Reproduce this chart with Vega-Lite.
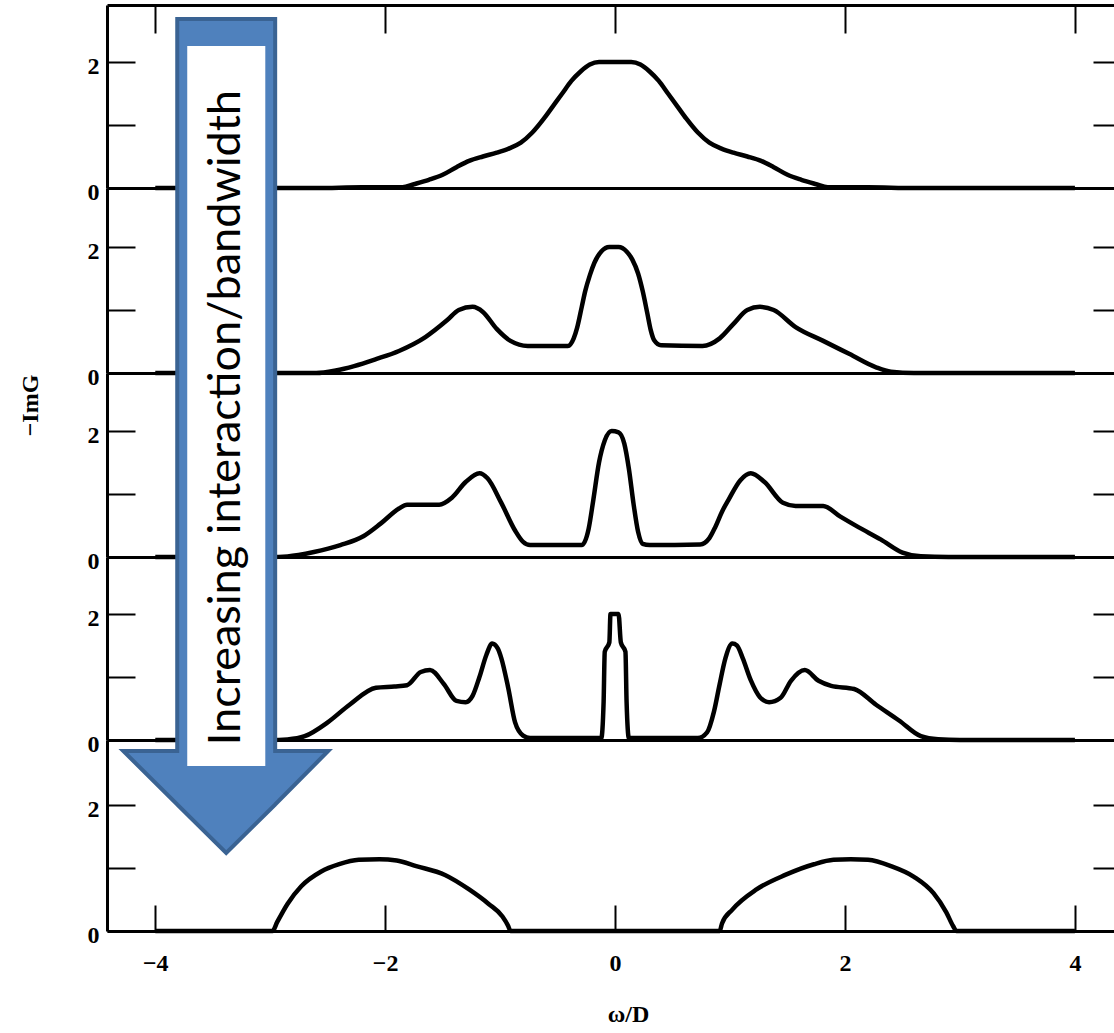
{
  "$schema": "https://vega.github.io/schema/vega-lite/v6.json",
  "background": "white",
  "padding": {"left": 18, "top": 4, "right": 0, "bottom": 0},
  "bounds": "flush",
  "spacing": 0,
  "config": {
    "view": {"stroke": null},
    "axis": {"grid": false, "domainColor": "black", "tickColor": "black", "labelColor": "black", "titleColor": "black"}
  },
  "datasets": {
    "u1": [
      {"w": -4, "g": 0}, {"w": -2.6, "g": 0}, {"w": -2.2, "g": 0.01}, {"w": -1.85, "g": 0.01},
      {"w": -1.75, "g": 0.06}, {"w": -1.62, "g": 0.13}, {"w": -1.5, "g": 0.21}, {"w": -1.38, "g": 0.33},
      {"w": -1.27, "g": 0.43}, {"w": -1.15, "g": 0.5}, {"w": -1.03, "g": 0.56}, {"w": -0.92, "g": 0.63},
      {"w": -0.82, "g": 0.72}, {"w": -0.72, "g": 0.88}, {"w": -0.62, "g": 1.1}, {"w": -0.54, "g": 1.3},
      {"w": -0.46, "g": 1.5}, {"w": -0.38, "g": 1.7}, {"w": -0.3, "g": 1.85}, {"w": -0.22, "g": 1.96},
      {"w": -0.14, "g": 2.0}, {"w": 0, "g": 2.0}, {"w": 0.14, "g": 2.0}, {"w": 0.22, "g": 1.96},
      {"w": 0.3, "g": 1.85}, {"w": 0.38, "g": 1.7}, {"w": 0.46, "g": 1.5}, {"w": 0.54, "g": 1.3},
      {"w": 0.62, "g": 1.1}, {"w": 0.72, "g": 0.88}, {"w": 0.82, "g": 0.72}, {"w": 0.92, "g": 0.63},
      {"w": 1.03, "g": 0.56}, {"w": 1.15, "g": 0.5}, {"w": 1.27, "g": 0.43}, {"w": 1.38, "g": 0.33},
      {"w": 1.5, "g": 0.21}, {"w": 1.62, "g": 0.13}, {"w": 1.75, "g": 0.06}, {"w": 1.85, "g": 0.01},
      {"w": 2.2, "g": 0.01}, {"w": 2.6, "g": 0}, {"w": 4, "g": 0}
    ],
    "u2": [
      {"w": -4, "g": 0}, {"w": -2.6, "g": 0}, {"w": -2.43, "g": 0.04}, {"w": -2.27, "g": 0.11},
      {"w": -2.08, "g": 0.22}, {"w": -1.88, "g": 0.35}, {"w": -1.65, "g": 0.57}, {"w": -1.46, "g": 0.84},
      {"w": -1.36, "g": 1.0}, {"w": -1.24, "g": 1.05}, {"w": -1.15, "g": 0.97}, {"w": -1.03, "g": 0.7},
      {"w": -0.91, "g": 0.51}, {"w": -0.76, "g": 0.43}, {"w": -0.41, "g": 0.43}, {"w": -0.36, "g": 0.55},
      {"w": -0.33, "g": 0.72}, {"w": -0.29, "g": 1.05}, {"w": -0.26, "g": 1.3}, {"w": -0.22, "g": 1.55},
      {"w": -0.18, "g": 1.75}, {"w": -0.12, "g": 1.93}, {"w": -0.05, "g": 2.0}, {"w": 0.03, "g": 2.0},
      {"w": 0.1, "g": 1.93}, {"w": 0.15, "g": 1.8}, {"w": 0.2, "g": 1.58}, {"w": 0.24, "g": 1.3},
      {"w": 0.28, "g": 0.95}, {"w": 0.31, "g": 0.68}, {"w": 0.34, "g": 0.52}, {"w": 0.4, "g": 0.44},
      {"w": 0.76, "g": 0.43}, {"w": 0.91, "g": 0.55}, {"w": 1.03, "g": 0.78}, {"w": 1.15, "g": 1.0},
      {"w": 1.26, "g": 1.05}, {"w": 1.38, "g": 1.0}, {"w": 1.57, "g": 0.73}, {"w": 1.81, "g": 0.51},
      {"w": 2.04, "g": 0.3}, {"w": 2.27, "g": 0.09}, {"w": 2.4, "g": 0.02}, {"w": 2.6, "g": 0},
      {"w": 4, "g": 0}
    ],
    "u25": [
      {"w": -4, "g": 0}, {"w": -3.0, "g": 0}, {"w": -2.85, "g": 0.01}, {"w": -2.62, "g": 0.08},
      {"w": -2.39, "g": 0.19}, {"w": -2.19, "g": 0.33}, {"w": -2.04, "g": 0.53}, {"w": -1.88, "g": 0.77},
      {"w": -1.81, "g": 0.83}, {"w": -1.53, "g": 0.83}, {"w": -1.42, "g": 0.94}, {"w": -1.3, "g": 1.19},
      {"w": -1.18, "g": 1.33}, {"w": -1.11, "g": 1.25}, {"w": -0.99, "g": 0.86}, {"w": -0.87, "g": 0.42},
      {"w": -0.8, "g": 0.24}, {"w": -0.74, "g": 0.19}, {"w": -0.29, "g": 0.19}, {"w": -0.23, "g": 0.45},
      {"w": -0.19, "g": 0.9}, {"w": -0.14, "g": 1.5}, {"w": -0.09, "g": 1.85}, {"w": -0.03, "g": 2.0},
      {"w": 0.03, "g": 1.98}, {"w": 0.08, "g": 1.8}, {"w": 0.12, "g": 1.4}, {"w": 0.16, "g": 0.85},
      {"w": 0.2, "g": 0.4}, {"w": 0.24, "g": 0.21}, {"w": 0.3, "g": 0.19}, {"w": 0.74, "g": 0.2},
      {"w": 0.82, "g": 0.3}, {"w": 0.87, "g": 0.47}, {"w": 0.93, "g": 0.72}, {"w": 0.99, "g": 0.92},
      {"w": 1.09, "g": 1.22}, {"w": 1.18, "g": 1.33}, {"w": 1.3, "g": 1.19}, {"w": 1.46, "g": 0.86},
      {"w": 1.57, "g": 0.81}, {"w": 1.81, "g": 0.81}, {"w": 1.96, "g": 0.64}, {"w": 2.12, "g": 0.47},
      {"w": 2.31, "g": 0.28}, {"w": 2.5, "g": 0.07}, {"w": 2.66, "g": 0.01}, {"w": 2.9, "g": 0},
      {"w": 4, "g": 0}
    ],
    "u3": [
      {"w": -4, "g": 0}, {"w": -3.0, "g": 0}, {"w": -2.85, "g": 0.01}, {"w": -2.7, "g": 0.06},
      {"w": -2.5, "g": 0.28}, {"w": -2.31, "g": 0.56}, {"w": -2.08, "g": 0.83}, {"w": -1.92, "g": 0.85},
      {"w": -1.81, "g": 0.87}, {"w": -1.69, "g": 1.08}, {"w": -1.61, "g": 1.11}, {"w": -1.49, "g": 0.89},
      {"w": -1.38, "g": 0.62}, {"w": -1.3, "g": 0.6}, {"w": -1.24, "g": 0.7}, {"w": -1.18, "g": 1.0},
      {"w": -1.12, "g": 1.35}, {"w": -1.07, "g": 1.53}, {"w": -1.02, "g": 1.45}, {"w": -0.99, "g": 1.3},
      {"w": -0.93, "g": 0.83}, {"w": -0.87, "g": 0.28}, {"w": -0.8, "g": 0.07}, {"w": -0.74, "g": 0.03},
      {"w": -0.12, "g": 0.03}, {"w": -0.1, "g": 0.6}, {"w": -0.09, "g": 1.4}, {"w": -0.05, "g": 1.55},
      {"w": -0.04, "g": 2.0}, {"w": 0.03, "g": 2.0}, {"w": 0.05, "g": 1.55}, {"w": 0.09, "g": 1.4},
      {"w": 0.1, "g": 0.6}, {"w": 0.12, "g": 0.03}, {"w": 0.72, "g": 0.03}, {"w": 0.8, "g": 0.12},
      {"w": 0.86, "g": 0.45}, {"w": 0.91, "g": 0.89}, {"w": 0.96, "g": 1.3}, {"w": 1.02, "g": 1.53},
      {"w": 1.06, "g": 1.5}, {"w": 1.11, "g": 1.3}, {"w": 1.18, "g": 0.95}, {"w": 1.26, "g": 0.68},
      {"w": 1.34, "g": 0.6}, {"w": 1.44, "g": 0.67}, {"w": 1.53, "g": 0.94}, {"w": 1.65, "g": 1.11},
      {"w": 1.77, "g": 0.94}, {"w": 1.88, "g": 0.86}, {"w": 2.08, "g": 0.81}, {"w": 2.27, "g": 0.56},
      {"w": 2.47, "g": 0.31}, {"w": 2.66, "g": 0.06}, {"w": 2.81, "g": 0.01}, {"w": 3.0, "g": 0},
      {"w": 4, "g": 0}
    ],
    "u4": [
      {"w": -4, "g": 0}, {"w": -2.98, "g": 0}, {"w": -2.94, "g": 0.14}, {"w": -2.85, "g": 0.43},
      {"w": -2.73, "g": 0.71}, {"w": -2.56, "g": 0.94}, {"w": -2.4, "g": 1.06}, {"w": -2.23, "g": 1.13},
      {"w": -2.05, "g": 1.14}, {"w": -1.9, "g": 1.12}, {"w": -1.73, "g": 1.03}, {"w": -1.48, "g": 0.89},
      {"w": -1.27, "g": 0.66}, {"w": -1.1, "g": 0.43}, {"w": -0.98, "g": 0.23}, {"w": -0.93, "g": 0.08},
      {"w": -0.91, "g": 0}, {"w": 0.91, "g": 0}, {"w": 0.93, "g": 0.12}, {"w": 1.02, "g": 0.34},
      {"w": 1.23, "g": 0.66}, {"w": 1.48, "g": 0.89}, {"w": 1.73, "g": 1.06}, {"w": 1.9, "g": 1.13},
      {"w": 2.05, "g": 1.14}, {"w": 2.2, "g": 1.13}, {"w": 2.4, "g": 1.03}, {"w": 2.6, "g": 0.86},
      {"w": 2.77, "g": 0.6}, {"w": 2.88, "g": 0.3}, {"w": 2.94, "g": 0.08}, {"w": 2.97, "g": 0},
      {"w": 4, "g": 0}
    ],
    "arrow": [
      {"x": -4.278, "top": 2.857, "bottom": 2.857},
      {"x": -3.809, "top": 2.857, "bottom": 2.008},
      {"x": -3.8089, "top": 14.476, "bottom": 2.008},
      {"x": -3.383, "top": 14.476, "bottom": 1.238},
      {"x": -2.9571, "top": 14.476, "bottom": 2.008},
      {"x": -2.957, "top": 2.857, "bottom": 2.008},
      {"x": -2.496, "top": 2.857, "bottom": 2.857}
    ],
    "arrowLabel": [
      {"text": "Increasing interaction/bandwidth"}
    ]
  },
  "vconcat": [
    {
      "width": 1007,
      "height": 183,
      "layer": [
        {
          "data": {"name": "u1"},
          "mark": {"type": "line", "stroke": "black", "strokeWidth": 4.5, "interpolate": "monotone"},
          "encoding": {
            "x": {"field": "w", "type": "quantitative", "scale": {"domain": [-4.42, 4.34]},
                  "axis": {"orient": "bottom", "domainWidth": 3, "ticks": false, "labels": false, "title": null}},
            "y": {"field": "g", "type": "quantitative", "scale": {"domain": [0, 2.905]},
                  "axis": {"orient": "left", "values": [0, 1, 2], "labelExpr": "datum.value == 1 ? '' : datum.label",
                           "domainWidth": 3, "tickSize": -28, "tickWidth": 2, "labelPadding": 36, "labelOffset": 4,
                           "labelFont": "Liberation Serif", "labelFontWeight": "bold", "labelFontSize": 24, "title": null}}
          }
        },
        {
          "mark": {"type": "text", "text": "U/D=1", "font": "Liberation Serif", "fontWeight": "bold", "fontSize": 26, "align": "center", "baseline": "middle", "color": "black"},
          "encoding": {
            "x": {"datum": 2.23, "scale": {"domain": [-4.42, 4.34]},
                  "axis": {"orient": "top", "values": [-4, -2, 0, 2, 4], "domainWidth": 3, "tickSize": -28, "tickWidth": 2, "labels": false, "title": null}},
            "y": {"datum": 1.49, "scale": {"domain": [0, 2.905]},
                  "axis": {"orient": "right", "values": [0, 1, 2], "domain": false, "labels": false, "tickSize": -21, "tickWidth": 2, "title": null}}
          }
        }
      ],
      "resolve": {"axis": {"x": "independent", "y": "independent"}}
    },
    {
      "width": 1007,
      "height": 185,
      "layer": [
        {
          "data": {"name": "u2"},
          "mark": {"type": "line", "stroke": "black", "strokeWidth": 4.5, "interpolate": "monotone"},
          "encoding": {
            "x": {"field": "w", "type": "quantitative", "scale": {"domain": [-4.42, 4.34]},
                  "axis": {"orient": "bottom", "domainWidth": 3, "ticks": false, "labels": false, "title": null}},
            "y": {"field": "g", "type": "quantitative", "scale": {"domain": [0, 2.937]},
                  "axis": {"orient": "left", "values": [0, 1, 2], "labelExpr": "datum.value == 1 ? '' : datum.label",
                           "domainWidth": 3, "tickSize": -28, "tickWidth": 2, "labelPadding": 36, "labelOffset": 4,
                           "labelFont": "Liberation Serif", "labelFontWeight": "bold", "labelFontSize": 24, "title": null}}
          }
        },
        {
          "mark": {"type": "text", "text": "U/D=2", "font": "Liberation Serif", "fontWeight": "bold", "fontSize": 26, "align": "center", "baseline": "middle", "color": "black"},
          "encoding": {
            "x": {"datum": 2.33, "scale": {"domain": [-4.42, 4.34]}, "axis": null},
            "y": {"datum": 1.52, "scale": {"domain": [0, 2.937]},
                  "axis": {"orient": "right", "values": [0, 1, 2], "domain": false, "labels": false, "tickSize": -21, "tickWidth": 2, "title": null}}
          }
        }
      ],
      "resolve": {"axis": {"x": "independent", "y": "independent"}}
    },
    {
      "width": 1007,
      "height": 184,
      "layer": [
        {
          "data": {"name": "u25"},
          "mark": {"type": "line", "stroke": "black", "strokeWidth": 4.5, "interpolate": "monotone"},
          "encoding": {
            "x": {"field": "w", "type": "quantitative", "scale": {"domain": [-4.42, 4.34]},
                  "axis": {"orient": "bottom", "domainWidth": 3, "ticks": false, "labels": false, "title": null}},
            "y": {"field": "g", "type": "quantitative", "scale": {"domain": [0, 2.921]},
                  "axis": {"orient": "left", "values": [0, 1, 2], "labelExpr": "datum.value == 1 ? '' : datum.label",
                           "domainWidth": 3, "tickSize": -28, "tickWidth": 2, "labelPadding": 36, "labelOffset": 4,
                           "labelFont": "Liberation Serif", "labelFontWeight": "bold", "labelFontSize": 24,
                           "title": "−ImG", "titleFont": "Liberation Serif", "titleFontWeight": "bold", "titleFontSize": 24,
                           "titleAngle": 270, "titleAlign": "center", "titleBaseline": "middle", "titleX": -77, "titleY": 32}}
          }
        },
        {
          "mark": {"type": "text", "text": "U/D=2.5", "font": "Liberation Serif", "fontWeight": "bold", "fontSize": 26, "align": "center", "baseline": "middle", "color": "black"},
          "encoding": {
            "x": {"datum": 2.37, "scale": {"domain": [-4.42, 4.34]}, "axis": null},
            "y": {"datum": 1.49, "scale": {"domain": [0, 2.921]},
                  "axis": {"orient": "right", "values": [0, 1, 2], "domain": false, "labels": false, "tickSize": -21, "tickWidth": 2, "title": null}}
          }
        }
      ],
      "resolve": {"axis": {"x": "independent", "y": "independent"}}
    },
    {
      "width": 1007,
      "height": 183,
      "layer": [
        {
          "data": {"name": "u3"},
          "mark": {"type": "line", "stroke": "black", "strokeWidth": 4.5, "interpolate": "monotone"},
          "encoding": {
            "x": {"field": "w", "type": "quantitative", "scale": {"domain": [-4.42, 4.34]},
                  "axis": {"orient": "bottom", "domainWidth": 3, "ticks": false, "labels": false, "title": null}},
            "y": {"field": "g", "type": "quantitative", "scale": {"domain": [0, 2.905]},
                  "axis": {"orient": "left", "values": [0, 1, 2], "labelExpr": "datum.value == 1 ? '' : datum.label",
                           "domainWidth": 3, "tickSize": -28, "tickWidth": 2, "labelPadding": 36, "labelOffset": 4,
                           "labelFont": "Liberation Serif", "labelFontWeight": "bold", "labelFontSize": 24, "title": null}}
          }
        },
        {
          "mark": {"type": "text", "text": "U/D=3", "font": "Liberation Serif", "fontWeight": "bold", "fontSize": 26, "align": "center", "baseline": "middle", "color": "black"},
          "encoding": {
            "x": {"datum": 2.32, "scale": {"domain": [-4.42, 4.34]}, "axis": null},
            "y": {"datum": 1.7, "scale": {"domain": [0, 2.905]},
                  "axis": {"orient": "right", "values": [0, 1, 2], "domain": false, "labels": false, "tickSize": -21, "tickWidth": 2, "title": null}}
          }
        }
      ],
      "resolve": {"axis": {"x": "independent", "y": "independent"}}
    },
    {
      "width": 1007,
      "height": 191,
      "layer": [
        {
          "data": {"name": "u4"},
          "mark": {"type": "line", "stroke": "black", "strokeWidth": 4.5, "interpolate": "monotone"},
          "encoding": {
            "x": {"field": "w", "type": "quantitative", "scale": {"domain": [-4.42, 4.34]},
                  "axis": {"orient": "bottom", "values": [-4, -2, 0, 2, 4], "domainWidth": 3, "tickSize": -26, "tickWidth": 2,
                           "labelPadding": 46, "labelFont": "Liberation Serif", "labelFontWeight": "bold", "labelFontSize": 24,
                           "title": "ω/D", "titleFont": "Liberation Serif", "titleFontWeight": "bold", "titleFontSize": 24,
                           "titleX": 521, "titleY": 83, "titleBaseline": "middle", "titleAlign": "center"}},
            "y": {"field": "g", "type": "quantitative", "scale": {"domain": [0, 3.032]},
                  "axis": {"orient": "left", "values": [0, 1, 2], "labelExpr": "datum.value == 1 ? '' : datum.label",
                           "domainWidth": 3, "tickSize": -28, "tickWidth": 2, "labelPadding": 36, "labelOffset": 4,
                           "labelFont": "Liberation Serif", "labelFontWeight": "bold", "labelFontSize": 24, "title": null}}
          }
        },
        {
          "mark": {"type": "text", "text": "U/D=4", "font": "Liberation Serif", "fontWeight": "bold", "fontSize": 26, "align": "center", "baseline": "middle", "color": "black"},
          "encoding": {
            "x": {"datum": 2.38, "scale": {"domain": [-4.42, 4.34]}, "axis": null},
            "y": {"datum": 1.98, "scale": {"domain": [0, 3.032]},
                  "axis": {"orient": "right", "values": [0, 1, 2], "domain": false, "labels": false, "tickSize": -21, "tickWidth": 2, "title": null}}
          }
        },
        {
          "data": {"name": "arrow"},
          "layer": [
            {
              "mark": {"type": "area", "interpolate": "linear", "fill": "#4F81BD", "stroke": "#3A6393", "strokeWidth": 4, "strokeJoin": "miter"},
              "encoding": {
                "x": {"field": "x", "type": "quantitative", "scale": {"domain": [-4.42, 4.34]}, "axis": null},
                "y": {"field": "top", "type": "quantitative", "scale": {"domain": [0, 3.032]}, "axis": null},
                "y2": {"field": "bottom"}
              }
            }
          ]
        },
        {
          "data": {"name": "arrowLabel"},
          "layer": [
            {
              "mark": {"type": "rect", "fill": "white", "stroke": null},
              "encoding": {
                "x": {"datum": -3.722, "type": "quantitative", "scale": {"domain": [-4.42, 4.34]}, "axis": null},
                "x2": {"datum": -3.043},
                "y": {"datum": 14.048, "type": "quantitative", "scale": {"domain": [0, 3.032]}, "axis": null},
                "y2": {"datum": 2.619}
              }
            },
            {
              "mark": {"type": "text", "angle": 270, "font": "Lato", "fontSize": 45,
                       "align": "center", "baseline": "alphabetic", "fill": "black"},
              "encoding": {
                "text": {"field": "text", "type": "nominal"},
                "x": {"datum": -3.261, "type": "quantitative", "scale": {"domain": [-4.42, 4.34]}, "axis": null},
                "y": {"datum": 8.15, "type": "quantitative", "scale": {"domain": [0, 3.032]}, "axis": null}
              }
            }
          ]
        }
      ],
      "resolve": {"axis": {"x": "independent", "y": "independent"}}
    }
  ]
}
